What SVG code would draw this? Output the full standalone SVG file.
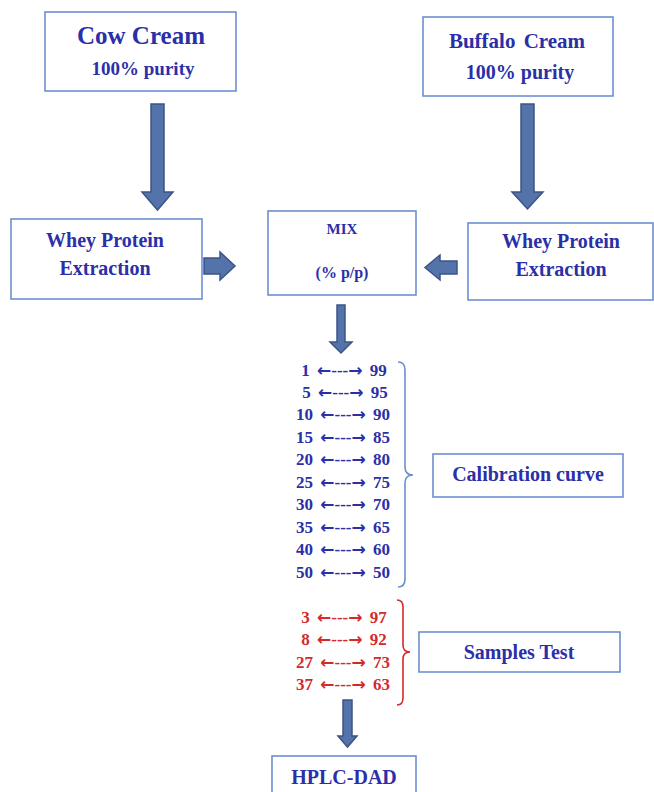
<svg xmlns="http://www.w3.org/2000/svg" width="654" height="792" viewBox="0 0 654 792">
<style>
.box{fill:#fff;stroke:#6c8fd2;stroke-width:1.6}
.t{font-family:"Liberation Serif","Times New Roman",serif;font-weight:bold;fill:#2b2fa8;text-anchor:middle}
.n{font-size:17px;word-spacing:3px}
.a{font-family:"DejaVu Sans",sans-serif;font-weight:bold}
.red{fill:#d42a2a}
.arr{fill:#5473aa;stroke:#3b5487;stroke-width:1.5;stroke-linejoin:miter}
.br{fill:none;stroke-width:1.6}
</style>
<rect width="654" height="792" fill="#fff"/>
<g id="connectors">
<polygon class="arr" points="151,104 164,104 164,192 173,192 157.5,210 142,192 151,192"/>
<polygon class="arr" points="521,104 534,104 534,192 543,192 527.5,209 512,192 521,192"/>
<polygon class="arr" points="204,258 220,258 220,252 235,266 220,280 220,274 204,274"/>
<polygon class="arr" points="457,261 440,261 440,255 425,267.5 440,280 440,274 457,274"/>
<polygon class="arr" points="337,305 345,305 345,342 352,342 341,353 330,342 337,342"/>
<polygon class="arr" points="343,700 352,700 352,736 357,736 347.5,747 338,736 343,736"/>
<path class="br" stroke="#6c8fd2" d="M398,362 Q405,362 405,370 L405,467 Q405,475 413,475 Q405,475 405,483 L405,579 Q405,587 398,587"/>
<path class="br" stroke="#d42a2a" d="M397,600 Q403,600 403,607 L403,645 Q403,652 410,652 Q403,652 403,659 L403,698 Q403,705 397,705"/>
</g>
<g id="cow">
<rect class="box" x="45" y="12" width="191" height="79"/>
<text class="t" x="141" y="44" font-size="25">Cow Cream</text>
<text class="t" x="143" y="75" font-size="19">100% purity</text>
</g>
<g id="buffalo">
<rect class="box" x="423" y="17" width="190" height="79"/>
<text class="t" x="517" y="48" font-size="21" word-spacing="3">Buffalo Cream</text>
<text class="t" x="520" y="79" font-size="20">100% purity</text>
</g>
<g id="whey-left">
<rect class="box" x="11" y="219" width="191" height="80"/>
<text class="t" x="105" y="247" font-size="20">Whey Protein</text>
<text class="t" x="105" y="275" font-size="20">Extraction</text>
</g>
<g id="mix">
<rect class="box" x="268" y="211" width="148" height="84"/>
<text class="t" x="342" y="234" font-size="15">MIX</text>
<text class="t" x="342" y="278" font-size="16">(% p/p)</text>
</g>
<g id="whey-right">
<rect class="box" x="468" y="223" width="185" height="77"/>
<text class="t" x="561" y="248" font-size="20">Whey Protein</text>
<text class="t" x="561" y="276" font-size="20">Extraction</text>
</g>
<g id="calibration-values">
<text class="t n" x="344" y="376">1 <tspan class="a">←</tspan>---<tspan class="a">→</tspan> 99</text>
<text class="t n" x="345" y="398">5 <tspan class="a">←</tspan>---<tspan class="a">→</tspan> 95</text>
<text class="t n" x="343" y="420">10 <tspan class="a">←</tspan>---<tspan class="a">→</tspan> 90</text>
<text class="t n" x="343" y="443">15 <tspan class="a">←</tspan>---<tspan class="a">→</tspan> 85</text>
<text class="t n" x="343" y="465">20 <tspan class="a">←</tspan>---<tspan class="a">→</tspan> 80</text>
<text class="t n" x="343" y="488">25 <tspan class="a">←</tspan>---<tspan class="a">→</tspan> 75</text>
<text class="t n" x="343" y="510">30 <tspan class="a">←</tspan>---<tspan class="a">→</tspan> 70</text>
<text class="t n" x="343" y="533">35 <tspan class="a">←</tspan>---<tspan class="a">→</tspan> 65</text>
<text class="t n" x="343" y="555">40 <tspan class="a">←</tspan>---<tspan class="a">→</tspan> 60</text>
<text class="t n" x="343" y="578">50 <tspan class="a">←</tspan>---<tspan class="a">→</tspan> 50</text>
</g>
<g id="calibration">
<rect class="box" x="433" y="454" width="190" height="43"/>
<text class="t" x="528" y="481" font-size="20">Calibration curve</text>
</g>
<g id="sample-values">
<text class="t n red" x="344" y="623">3 <tspan class="a">←</tspan>---<tspan class="a">→</tspan> 97</text>
<text class="t n red" x="344" y="645">8 <tspan class="a">←</tspan>---<tspan class="a">→</tspan> 92</text>
<text class="t n red" x="343" y="668">27 <tspan class="a">←</tspan>---<tspan class="a">→</tspan> 73</text>
<text class="t n red" x="343" y="690">37 <tspan class="a">←</tspan>---<tspan class="a">→</tspan> 63</text>
</g>
<g id="samples">
<rect class="box" x="419" y="632" width="201" height="40"/>
<text class="t" x="519" y="659" font-size="20">Samples Test</text>
</g>
<g id="hplc">
<rect class="box" x="272" y="756" width="144" height="40"/>
<text class="t" x="344" y="784" font-size="20">HPLC-DAD</text>
</g>
</svg>
